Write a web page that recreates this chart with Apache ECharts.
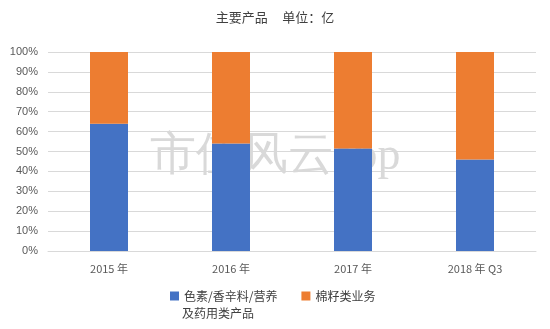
<!DOCTYPE html>
<html><head><meta charset="utf-8">
<script src="https://cdn.jsdelivr.net/npm/echarts@6/dist/echarts.min.js"></script>
<style>html,body{margin:0;padding:0;background:#fff}#c{width:550px;height:329px}</style>
</head><body><div id="c"></div>
<script>
var categories = ['2015 年', '2016 年', '2017 年', '2018 年 Q3'];
var pigmentShare = [64, 54, 51.5, 46];
var cottonShare = [36, 46, 48.5, 54];
var seriesNames = ['色素/香辛料/营养及药用类产品', '棉籽类业务'];
var legendLines = { '色素/香辛料/营养及药用类产品': ['色素/香辛料/营养', '及药用类产品'] };
var titleText = '主要产品     单位：亿';

var font = '"Noto Sans CJK SC", sans-serif';
var chart = echarts.init(document.getElementById('c'));
chart.setOption({
  animation: false,
  backgroundColor: '#fff',
  title: { text: titleText, left: 'center', top: 6,
    textStyle: { fontFamily: font, fontSize: 13, fontWeight: 'normal', color: '#404040' } },
  graphic: [
    { type: 'text', left: 150, top: 134, silent: true, z: -1,
      style: { text: '市值风云app', fontSize: 46, fontFamily: 'serif', fill: 'rgba(160,160,160,0.4)' } },
    { type: 'text', left: 182, top: 307, silent: true,
      style: { text: legendLines[seriesNames[0]][1], fontSize: 12, fontFamily: font, fill: '#404040' } }
  ],
  grid: { left: 48, right: 14, top: 52, bottom: 78 },
  legend: {
    left: 165, top: 285, itemWidth: 9, itemHeight: 9, itemGap: 24,
    textStyle: { fontFamily: font, fontSize: 12, color: '#404040' },
    formatter: function (n) { return legendLines[n] ? legendLines[n][0] : n; },
    data: seriesNames.map(function (n) { return { name: n, icon: 'rect' }; })
  },
  xAxis: {
    type: 'category', data: categories,
    axisLine: { lineStyle: { color: '#d9d9d9' } }, axisTick: { show: false },
    axisLabel: { color: '#595959', fontSize: 11, margin: 12, fontFamily: font }
  },
  yAxis: {
    type: 'value', min: 0, max: 100, interval: 10,
    axisLabel: { formatter: '{value}%', color: '#595959', fontSize: 11, margin: 10 },
    splitLine: { lineStyle: { color: '#d9d9d9' } },
    axisLine: { show: false }, axisTick: { show: false }
  },
  series: [
    { name: seriesNames[0], type: 'bar', stack: 'a', data: pigmentShare, barWidth: 38,
      itemStyle: { color: '#4472C4' }, z: 3 },
    { name: seriesNames[1], type: 'bar', stack: 'a', data: cottonShare, barWidth: 38,
      itemStyle: { color: '#ED7D31' }, z: 3 }
  ]
});
</script></body></html>
